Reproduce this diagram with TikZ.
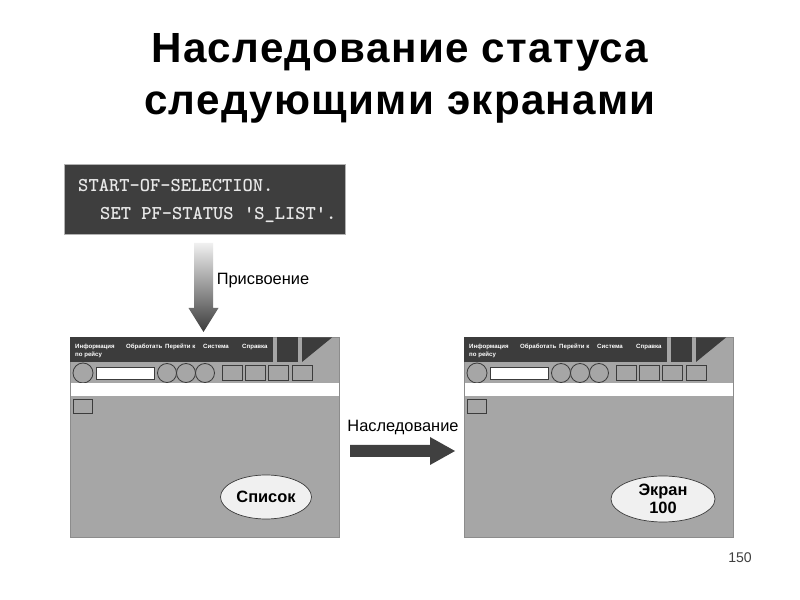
\documentclass[tikz,border=0pt]{standalone}
\usepackage{fontspec}
\setmainfont{Liberation Sans}
\usetikzlibrary{shapes.geometric}
\definecolor{darkbar}{HTML}{3C3C3C}
\definecolor{scrgray}{HTML}{A6A6A6}
\definecolor{scrframe}{HTML}{8C8C8C}
\definecolor{codebg}{HTML}{3E3E3E}
\definecolor{codetxt}{HTML}{E8E8E8}
\definecolor{arrowdark}{HTML}{404040}
\tikzset{
  titletext/.style={font=\fontsize{36}{40}\selectfont\bfseries\addfontfeatures{LetterSpace=3}, text=black, inner sep=0pt, anchor=base},
  codetext/.style={font=\ttfamily\bfseries\fontsize{16.7}{18}\selectfont, text=codetxt, inner sep=0pt, anchor=base west},
  labeltext/.style={font=\fontsize{14}{16}\selectfont, text=black, inner sep=0pt},
  menutext/.style={font=\fontsize{5.2}{6}\selectfont\bfseries, text=white, inner sep=0pt, anchor=base west},
  tool/.style={draw=darkbar, line width=0.7pt, fill=scrgray},
  bubble/.style={ellipse, draw=darkbar, line width=0.6pt, fill=white!94!black, font=\fontsize{14}{17}\selectfont\bfseries, align=center, inner sep=0pt},
  appscreen/.pic={
    \fill[scrgray, draw=scrframe, line width=0.8pt] (0,0) rectangle (269,200);
    \node[draw=none, inner sep=0pt, minimum width=269*0.03cm, minimum height=200*0.03cm, anchor=north west] (-frame) at (0,0) {};
    \fill[darkbar] (0,0.5) rectangle (203,25);
    \fill[darkbar] (207,0.5) rectangle (228,25);
    \fill[darkbar] (232,0.5) -- (262,0.5) -- (232,25) -- cycle;
    \node[menutext] (-m1) at (5,11.5) {Информация};
    \node[menutext] (-m2) at (56,11.5) {Обработать};
    \node[menutext] (-m3) at (95,11.5) {Перейти к};
    \node[menutext] (-m4) at (133,11.5) {Система};
    \node[menutext] (-m5) at (172,11.5) {Справка};
    \node[menutext] (-m6) at (5,19.5) {по рейсу};
    \draw[tool] (13,36) circle (10);
    \draw[draw=darkbar, line width=0.7pt, fill=white] (26,30) rectangle (84,42);
    \draw[tool] (97,36) circle (9.5);
    \draw[tool] (116,36) circle (9.5);
    \draw[tool] (135,36) circle (9.5);
    \draw[tool] (152,28) rectangle (172,43);
    \draw[tool] (175,28) rectangle (195,43);
    \draw[tool] (198,28) rectangle (218,43);
    \draw[tool] (222,28) rectangle (242,43);
    \fill[white] (0.5,46) rectangle (268.5,59);
    \draw[tool] (3,62) rectangle (22,76);
  }
}
\begin{document}
\begin{tikzpicture}[x=0.03cm, y=-0.03cm]
\useasboundingbox[fill=white] (0,0) rectangle (800,600);
% title
\node[titletext] (t1) at (400,63) {Наследование статуса};
\node[titletext] (t2) at (400,115) {следующими экранами};
% code box
\node[draw=black!30, line width=0.8pt, fill=codebg, minimum width=281*0.03cm, minimum height=70*0.03cm, anchor=north west, inner sep=0pt] (code) at (64,164) {};
\node[codetext] (c1) at (78,192) {START-OF-SELECTION.};
\node[codetext] (c2) at (100,220) {SET PF-STATUS 'S\_LIST'.};
% screens
\pic (L) at (70,337) {appscreen};
\pic (R) at (464,337) {appscreen};
\node[bubble, minimum width=91*0.03cm, minimum height=44*0.03cm] (list) at (266,497) {Список};
\node[bubble, minimum width=104*0.03cm, minimum height=46*0.03cm] (scr) at (663,499) {Экран\\[-2pt]100};
% down arrow (gradient)
\coordinate (dtop) at (203.5,243);
\shade[top color=white!94!black, bottom color=darkbar, shading angle=0]
  (194,243) -- (213,243) -- (213,308) -- (218.5,308) -- (203.5,332) -- (188.5,308) -- (194,308) -- cycle;
\node[labeltext] (assign) at (263,281) {Присвоение};
% right arrow
\fill[arrowdark] (350,445) -- (430,445) -- (430,437) -- (455,451) -- (430,465) -- (430,457) -- (350,457) -- cycle;
\node[labeltext] (inherit) at (403,427) {Наследование};
% page number
\node[font=\fontsize{12}{14}\selectfont, text=black!75, inner sep=0pt] (page) at (740,558) {150};
\end{tikzpicture}
\end{document}
